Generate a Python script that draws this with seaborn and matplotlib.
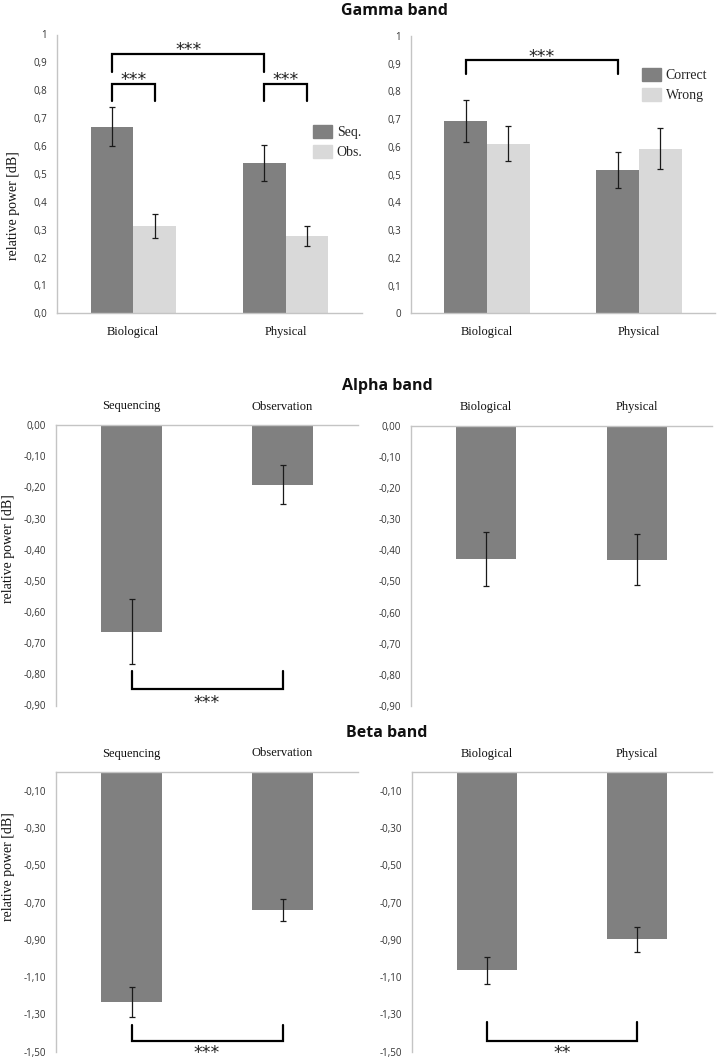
import numpy as np
import pandas as pd
import seaborn as sns
import matplotlib.pyplot as plt
from matplotlib.patches import Patch

# =========================
# DATA
# =========================
type_cats = ["Biological", "Physical"]
task_cats = ["Sequencing", "Observation"]

# gamma band, left: task x stimulus type
gamma_groups_left = ["Seq.", "Obs."]
gamma_seq = [0.670, 0.540]
gamma_seq_err = [0.070, 0.065]
gamma_obs = [0.312, 0.276]
gamma_obs_err = [0.043, 0.036]

# gamma band, right: response x stimulus type
gamma_groups_right = ["Correct", "Wrong"]
gamma_correct = [0.695, 0.517]
gamma_correct_err = [0.076, 0.066]
gamma_wrong = [0.611, 0.594]
gamma_wrong_err = [0.063, 0.074]

# alpha band
alpha_task = [-0.663, -0.192]
alpha_task_err = [0.105, 0.063]
alpha_type = [-0.427, -0.430]
alpha_type_err = [0.087, 0.082]

# beta band
beta_task = [-1.234, -0.740]
beta_task_err = [0.080, 0.060]
beta_type = [-1.064, -0.898]
beta_type_err = [0.074, 0.068]

# y ticks
gamma_ticks = [0, 0.1, 0.2, 0.3, 0.4, 0.5, 0.6, 0.7, 0.8, 0.9, 1.0]
gamma_left_labels = ["0,0", "0,1", "0,2", "0,3", "0,4", "0,5", "0,6", "0,7", "0,8", "0,9", "1"]
gamma_right_labels = ["0", "0,1", "0,2", "0,3", "0,4", "0,5", "0,6", "0,7", "0,8", "0,9", "1"]
alpha_ticks = [0, -0.1, -0.2, -0.3, -0.4, -0.5, -0.6, -0.7, -0.8, -0.9]
alpha_labels = ["0,00", "-0,10", "-0,20", "-0,30", "-0,40", "-0,50", "-0,60", "-0,70", "-0,80", "-0,90"]
beta_ticks = [-0.1, -0.3, -0.5, -0.7, -0.9, -1.1, -1.3, -1.5]
beta_labels = ["-0,10", "-0,30", "-0,50", "-0,70", "-0,90", "-1,10", "-1,30", "-1,50"]

DARK = "#808080"
LIGHT = "#d9d9d9"
SPINE = "#c4c4c4"
SERIF = "Liberation Serif"

# =========================
# STYLE
# =========================
sns.set_theme(style="white")
plt.rcParams["font.family"] = ["Open Sans", "DejaVu Sans"]

fig = plt.figure(figsize=(7.19, 10.60), dpi=100)
W, H = 719.0, 1060.0


def px_axes(x0, x1, ytop, ybot):
    return fig.add_axes([x0 / W, 1 - ybot / H, (x1 - x0) / W, (ybot - ytop) / H])


def style(ax, ticks, labels, ylim, top=False):
    ax.set_xlim(-0.5, 1.5)
    ax.set_ylim(*ylim)
    ax.set_yticks(ticks)
    ax.set_yticklabels(labels)
    ax.set_xlabel("")
    ax.set_ylabel("")
    if top:
        sns.despine(ax=ax, top=False, bottom=True, right=True)
        ax.xaxis.tick_top()
    else:
        sns.despine(ax=ax, top=True, right=True)
    for s in ax.spines.values():
        s.set_color(SPINE)
        s.set_linewidth(1.0)
    ax.tick_params(length=0, colors="#333333")
    ax.tick_params(axis="y", labelsize=7, pad=7)
    ax.tick_params(axis="x", labelsize=9, pad=9, labelfontfamily=SERIF, labelcolor="#111111")


def add_errors(ax, errs):
    centers = []
    for cont, err in zip(ax.containers, errs):
        xs = [b.get_x() + b.get_width() / 2 for b in cont]
        hs = [b.get_height() for b in cont]
        ax.errorbar(xs, hs, yerr=err, fmt="none", ecolor="#1a1a1a",
                    elinewidth=0.9, capsize=2.2, capthick=0.9)
        centers.append(xs)
    return centers


def grouped(ax, groups, vals, errs):
    df = pd.DataFrame({
        "cat": type_cats * 2,
        "grp": [groups[0]] * 2 + [groups[1]] * 2,
        "val": vals[0] + vals[1],
    })
    sns.barplot(data=df, x="cat", y="val", hue="grp", palette=[DARK, LIGHT],
                width=0.56, saturation=1, errorbar=None, legend=False,
                linewidth=0, ax=ax)
    return add_errors(ax, errs)


def single(ax, cats, vals, err):
    sns.barplot(x=cats, y=vals, color=DARK, width=0.4, saturation=1,
                errorbar=None, linewidth=0, ax=ax)
    return add_errors(ax, [err])[0]


def bracket(ax, x0, x1, y_leg, y_bar, y_text, stars):
    ax.plot([x0, x0, x1, x1], [y_leg, y_bar, y_bar, y_leg], color="black",
            lw=1.6, clip_on=False, solid_joinstyle="miter")
    ax.text((x0 + x1) / 2, y_text, stars, ha="center", va="center",
            fontsize=12.5, family="DejaVu Sans", color="#222222", clip_on=False)


def legend(ax, groups, anchor):
    handles = [Patch(color=DARK, label=groups[0]), Patch(color=LIGHT, label=groups[1])]
    ax.legend(handles=handles, loc="upper left", bbox_to_anchor=anchor,
              frameon=False, borderpad=0, borderaxespad=0,
              handlelength=1.35, handleheight=1.1, handletextpad=0.35,
              labelspacing=0.4, prop={"family": SERIF, "size": 10})


def ylab(ax, x, y):
    ax.set_ylabel("relative power [dB]", family=SERIF, fontsize=10, color="#111111")
    ax.yaxis.set_label_coords(x, y)


def title(x, y, s):
    fig.text(x / W, 1 - y / H, s, ha="center", va="center", fontsize=11.5,
             fontweight="bold", family="Open Sans", color="#111111")


# =========================
# GAMMA BAND
# =========================
title(394, 11, "Gamma band")

ax1 = px_axes(57, 362, 34.5, 313.3)
c = grouped(ax1, gamma_groups_left, [gamma_seq, gamma_obs], [gamma_seq_err, gamma_obs_err])
style(ax1, gamma_ticks, gamma_left_labels, (0, 1))
legend(ax1, gamma_groups_left, (0.84, 0.675))
# c[0] = Seq. bars, c[1] = Obs. bars
bracket(ax1, c[0][0], c[1][0], 0.763, 0.823, 0.838, "***")
bracket(ax1, c[0][1], c[1][1], 0.763, 0.823, 0.838, "***")
bracket(ax1, c[0][0], c[0][1], 0.867, 0.931, 0.945, "***")
ylab(ax1, -0.12, 0.385)

ax2 = px_axes(411, 715, 36, 313.3)
c2 = grouped(ax2, gamma_groups_right, [gamma_correct, gamma_wrong], [gamma_correct_err, gamma_wrong_err])
style(ax2, gamma_ticks, gamma_right_labels, (0, 1))
legend(ax2, gamma_groups_right, (0.76, 0.885))
bracket(ax2, c2[0][0], c2[0][1], 0.864, 0.912, 0.926, "***")

# =========================
# ALPHA BAND
# =========================
title(387, 386, "Alpha band")

ax3 = px_axes(56, 358, 425, 705.5)
c3 = single(ax3, task_cats, alpha_task, alpha_task_err)
style(ax3, alpha_ticks, alpha_labels, (-0.9, 0), top=True)
bracket(ax3, c3[0], c3[1], -0.79, -0.847, -0.893, "***")
ylab(ax3, -0.135, 0.56)

ax4 = px_axes(411, 712, 425.7, 706)
c4 = single(ax4, type_cats, alpha_type, alpha_type_err)
style(ax4, alpha_ticks, alpha_labels, (-0.9, 0), top=True)

# =========================
# BETA BAND
# =========================
title(386.5, 733, "Beta band")

ax5 = px_axes(56, 358, 772, 1051.7)
c5 = single(ax5, task_cats, beta_task, beta_task_err)
style(ax5, beta_ticks, beta_labels, (-1.5, 0), top=True)
bracket(ax5, c5[0], c5[1], -1.355, -1.443, -1.506, "***")
ylab(ax5, -0.135, 0.66)

ax6 = px_axes(411.5, 712, 772, 1051.7)
c6 = single(ax6, type_cats, beta_type, beta_type_err)
style(ax6, beta_ticks, beta_labels, (-1.5, 0), top=True)
bracket(ax6, c6[0], c6[1], -1.343, -1.44, -1.506, "**")

fig.savefig("out.png", dpi=100)
